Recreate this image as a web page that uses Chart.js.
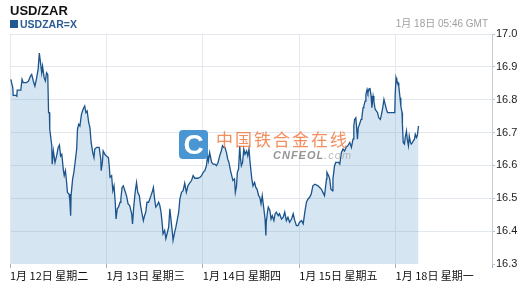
<!DOCTYPE html>
<html><head><meta charset="utf-8">
<script src="https://cdn.jsdelivr.net/npm/chart.js@4"></script>
<style>
html,body{margin:0;padding:0;background:#fff;}
#wrap{position:relative;width:530px;height:291px;overflow:hidden;font-family:"Liberation Sans",Arial,"Noto Sans CJK SC",sans-serif;}
canvas{position:absolute;left:0;top:0;}
.t{position:absolute;white-space:nowrap;}
#title{left:10px;top:4px;font-size:13px;line-height:13px;font-weight:bold;color:#111;}
#sub{left:10px;top:19px;font-size:10.5px;line-height:10.5px;font-weight:bold;color:#2a5d95;}
#sub span.sq{display:inline-block;width:8px;height:8px;background:#1f5a93;margin-right:2px;vertical-align:0px;}
#stamp{right:42px;top:19px;font-size:10px;line-height:10px;color:#a0a0a0;}
#logo{left:179px;top:130px;width:29px;height:29px;border-radius:4px;background:#3b8ed0;color:#fff;font:bold 28px/29px "Liberation Sans",Arial,sans-serif;text-align:center;opacity:0.92;}
#wmcn{left:216px;top:129px;font-size:17px;line-height:20px;letter-spacing:2px;color:rgba(240,115,55,0.8);font-family:"Noto Sans CJK SC",sans-serif;}
#wmen{left:273px;top:150px;font-size:11px;line-height:11px;letter-spacing:1px;font-style:italic;font-weight:bold;color:rgba(130,130,130,0.85);}
#wmen span{font-weight:normal;color:rgba(170,170,170,0.8);}
</style></head>
<body>
<div id="wrap">
<canvas id="c" width="530" height="291"></canvas>
<div class="t" id="title">USD/ZAR</div>
<div class="t" id="sub"><span class="sq"></span>USDZAR=X</div>
<div class="t" id="stamp">1月 18日 05:46 GMT</div>
<div class="t" id="logo">C</div>
<div class="t" id="wmcn">中国铁合金在线</div>
<div class="t" id="wmen">CNFEOL<span>.com</span></div>
</div>
<script>
// x: trading hours from 1月12日 00:00 (weekend removed), y: USD/ZAR rate
const dayTicks = [0, 24, 48, 72, 96, 120];
const dayLabels = ['1月 12日 星期二', '1月 13日 星期三', '1月 14日 星期四', '1月 15日 星期五', '1月 18日 星期一', ''];
const rateTicks = [16.3, 16.4, 16.5, 16.6, 16.7, 16.8, 16.9, 17.0];
const usdzar = [
[0.2,16.862],[0.7,16.836],[0.8,16.813],[1.5,16.813],[1.7,16.811],[1.8,16.829],[2.5,16.829],[2.7,16.831],[3.0,16.862],[3.3,16.852],[4.1,16.852],[4.6,16.857],[5.1,16.872],[5.4,16.877],[5.8,16.857],[6.2,16.841],[6.6,16.864],[7.0,16.892],[7.3,16.942],[7.5,16.922],[7.9,16.882],[8.1,16.902],[8.5,16.867],[8.8,16.857],[9.1,16.882],[9.4,16.877],[9.6,16.761],[9.8,16.761],[9.9,16.710],[10.4,16.660],[10.5,16.604],[10.8,16.644],[11.2,16.609],[11.6,16.629],[12.0,16.655],[12.3,16.662],[12.6,16.629],[12.9,16.634],[13.3,16.584],[13.5,16.569],[13.8,16.584],[14.1,16.548],[14.3,16.518],[14.7,16.513],[14.9,16.493],[15.1,16.447],[15.2,16.508],[15.6,16.559],[15.9,16.579],[16.2,16.609],[16.6,16.650],[16.8,16.710],[17.1,16.725],[17.4,16.720],[17.8,16.756],[18.2,16.771],[18.6,16.781],[18.9,16.761],[19.2,16.766],[19.6,16.730],[19.9,16.715],[20.2,16.670],[20.6,16.639],[20.9,16.624],[21.1,16.650],[21.6,16.655],[22.2,16.655],[22.6,16.619],[22.7,16.584],[23.0,16.609],[23.2,16.644],[23.6,16.634],[24.0,16.629],[24.5,16.624],[24.7,16.599],[24.9,16.564],[25.3,16.569],[25.6,16.523],[25.9,16.538],[26.2,16.488],[26.4,16.437],[26.7,16.468],[27.0,16.473],[27.4,16.488],[27.6,16.498],[27.9,16.533],[28.2,16.538],[28.6,16.523],[29.0,16.508],[29.4,16.483],[29.8,16.478],[30.3,16.453],[30.5,16.422],[30.8,16.473],[31.2,16.523],[31.5,16.548],[31.8,16.518],[32.2,16.508],[32.5,16.478],[32.8,16.458],[33.2,16.432],[33.5,16.447],[33.8,16.458],[34.1,16.488],[34.5,16.488],[34.8,16.498],[35.1,16.508],[35.5,16.523],[35.7,16.533],[36.0,16.498],[36.3,16.473],[36.6,16.478],[37.0,16.488],[37.3,16.478],[37.6,16.458],[37.9,16.422],[38.1,16.392],[38.5,16.402],[38.8,16.377],[39.1,16.392],[39.5,16.412],[39.8,16.468],[40.1,16.432],[40.5,16.387],[40.6,16.372],[41.0,16.397],[41.3,16.412],[41.6,16.432],[42.0,16.458],
[42.3,16.498],[42.7,16.518],[43.1,16.523],[43.5,16.546],[43.9,16.518],[44.3,16.538],[44.8,16.548],[45.2,16.554],[45.6,16.569],[46.0,16.561],[46.8,16.561],[47.3,16.564],[47.7,16.569],[48.1,16.579],[48.5,16.584],[48.9,16.599],[49.2,16.629],[49.4,16.614],[49.7,16.639],[50.2,16.609],[50.6,16.604],[51.0,16.604],[51.4,16.599],[51.8,16.609],[52.2,16.629],[52.6,16.644],[52.9,16.660],[53.2,16.655],[53.5,16.655],[53.9,16.639],[54.2,16.619],[54.5,16.609],[54.9,16.584],[55.2,16.569],[55.5,16.554],[55.9,16.559],[56.1,16.518],[56.4,16.538],[56.6,16.579],[56.9,16.589],[57.2,16.660],[57.4,16.619],[57.6,16.599],[57.9,16.609],[58.2,16.650],[58.5,16.634],[58.9,16.644],[59.2,16.629],[59.5,16.650],[59.7,16.619],[59.9,16.594],[60.2,16.559],[60.5,16.538],[60.9,16.548],[61.2,16.533],[61.5,16.528],[61.9,16.508],[62.2,16.503],[62.5,16.483],[62.8,16.508],[63.2,16.468],[63.5,16.437],[63.7,16.387],[63.8,16.427],[64.1,16.458],[64.3,16.473],[64.7,16.463],[65.0,16.437],[65.3,16.447],[65.7,16.432],[66.0,16.453],[66.3,16.458],[66.8,16.447],[67.1,16.453],[67.6,16.437],[68.0,16.442],[68.4,16.458],[68.8,16.432],[69.2,16.442],[69.6,16.427],[70.1,16.437],[70.5,16.453],[70.9,16.432],[71.3,16.417],[71.7,16.417],[72.1,16.427],[72.6,16.432],[73.0,16.422],[73.4,16.458],[73.8,16.488],[74.2,16.498],[74.6,16.503],[75.0,16.513],[75.4,16.538],[75.9,16.543],[76.7,16.538],[77.1,16.533],[77.5,16.528],[77.9,16.518],[78.3,16.508],[78.8,16.559],[78.9,16.579],[79.3,16.569],[79.6,16.559],[79.9,16.528],[80.3,16.523],[80.4,16.559],[80.8,16.599],[81.1,16.609],[81.8,16.609],
[82.1,16.604],[82.5,16.639],[82.9,16.650],[83.3,16.644],[83.7,16.655],[84.1,16.660],[84.6,16.670],[85.0,16.655],[85.4,16.680],[85.6,16.720],[85.8,16.740],[86.1,16.745],[86.2,16.730],[86.5,16.680],[86.7,16.715],[87.0,16.725],[87.4,16.740],[87.6,16.745],[87.9,16.776],[88.1,16.781],[88.4,16.796],[88.6,16.816],[88.9,16.831],[89.1,16.821],[89.4,16.833],[89.6,16.836],[89.9,16.811],[90.1,16.776],[90.4,16.811],[90.6,16.796],[90.9,16.771],[91.2,16.766],[91.5,16.761],[91.8,16.745],[92.2,16.740],[92.5,16.756],[92.8,16.776],[93.1,16.801],[93.3,16.791],[93.7,16.771],[94.0,16.761],[95.8,16.761],[95.9,16.816],[96.1,16.867],[96.3,16.857],[96.6,16.852],[96.8,16.841],[97.1,16.806],[97.3,16.781],[97.6,16.761],[97.7,16.725],[97.9,16.670],[98.2,16.665],[98.4,16.685],[98.7,16.705],[98.9,16.680],[99.2,16.660],[99.4,16.690],[99.7,16.670],[99.9,16.665],[100.2,16.670],[100.4,16.675],[100.7,16.680],[100.9,16.695],[101.2,16.685],[101.4,16.690],[101.7,16.720]
];

new Chart(document.getElementById('c'), {
  type: 'line',
  data: {
    datasets: [{
      data: usdzar.map(p => ({x: p[0], y: p[1]})),
      borderColor: '#1b548c',
      borderWidth: 1.3,
      backgroundColor: 'rgba(100,160,205,0.27)',
      fill: 'start',
      pointRadius: 0,
      tension: 0
    }]
  },
  options: {
    responsive: false,
    animation: false,
    events: [],
    layout: {padding: {left: 10, top: 34, right: 0, bottom: 0}},
    plugins: {legend: {display: false}, tooltip: {enabled: false}, title: {display: false}},
    scales: {
      x: {
        type: 'linear', min: 0, max: 120,
        afterBuildTicks: s => { s.ticks = dayTicks.map(v => ({value: v})); },
        afterFit: s => { s.height = 27; },
        border: {display: false},
        grid: {color: '#e6e8eb', tickColor: '#9fb4c8', tickLength: 4, drawTicks: true},
        ticks: {
          align: 'start', maxRotation: 0, autoSkip: false, padding: 1,
          color: '#111', font: {size: 11, family: '"Noto Sans CJK SC","Liberation Sans",sans-serif'},
          callback: (v) => dayLabels[dayTicks.indexOf(v)] ?? ''
        }
      },
      y: {
        position: 'right', min: 16.3, max: 17.0,
        afterBuildTicks: s => { s.ticks = rateTicks.map(v => ({value: v})); },
        afterFit: s => { s.width = 38; },
        border: {display: true, color: '#c3cbd4', width: 1},
        grid: {color: c => (c.tick && c.tick.value === 16.3) ? 'rgba(0,0,0,0)' : '#e3e8ee', tickColor: '#b8c2cc', tickLength: 3},
        ticks: {
          padding: 1, color: '#222', font: {size: 11, family: '"Liberation Sans",Arial,sans-serif'},
          callback: v => v.toFixed(1)
        }
      }
    }
  }
});
</script>
</body></html>
